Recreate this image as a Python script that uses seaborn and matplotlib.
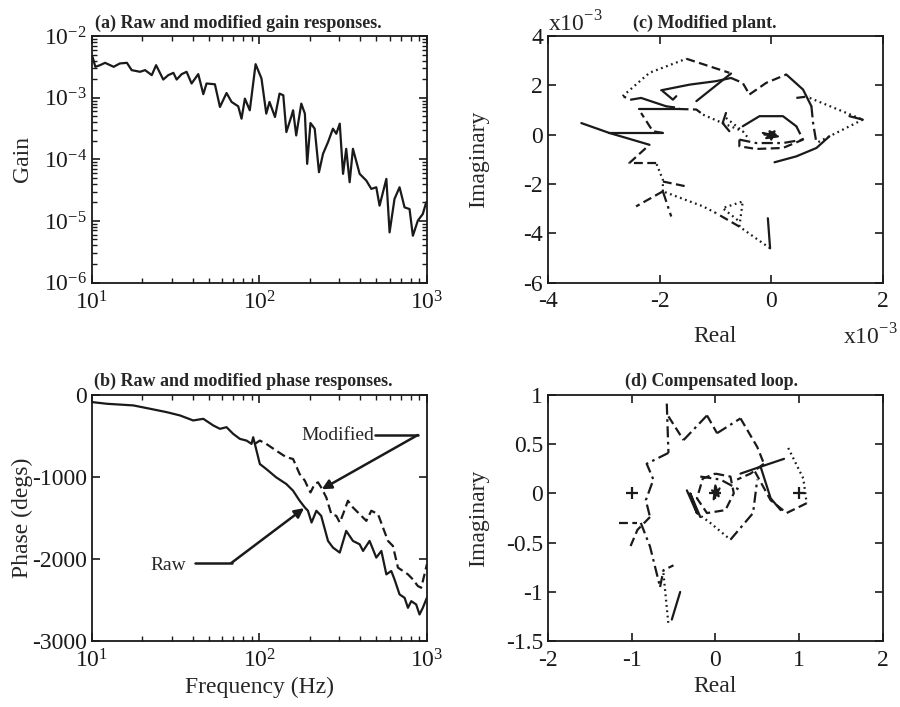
import matplotlib
matplotlib.use('Agg')
import matplotlib.pyplot as plt
import seaborn as sns
from matplotlib.ticker import FormatStrFormatter, LogLocator, NullFormatter

# (a) gain response
gain_freq = [10.1, 10.5, 11.2, 12.0, 13.5, 14.7, 16.2, 17.3, 19.4, 20.8, 22.8, 24.2,
             26.7, 28.6, 30.7, 32.1, 34.4, 36.8, 39.4, 43.2, 46.3, 48.4, 54.3, 58.2,
             63.7, 68.3, 74.8, 78.3, 82.0, 87.7, 95.0, 103, 110, 115, 124, 132, 139,
             145, 156, 159, 166, 178, 187, 193, 202, 214, 227, 240, 257, 275, 288,
             302, 316, 330, 346, 362, 397, 435, 466, 499, 522, 573, 599, 641, 687,
             736, 788, 825, 883, 946, 991]
gain_vals = [4.6e-3, 3.17e-3, 3.37e-3, 3.68e-3, 3.17e-3, 3.59e-3, 3.68e-3, 2.8e-3,
             2.63e-3, 2.8e-3, 2.32e-3, 3.37e-3, 1.97e-3, 2.32e-3, 2.53e-3, 1.97e-3,
             2.41e-3, 2.63e-3, 1.70e-3, 2.41e-3, 1.14e-3, 1.70e-3, 1.65e-3, 7.07e-4,
             1.19e-3, 8.53e-4, 7.25e-4, 4.56e-4, 9.66e-4, 6.24e-4, 3.50e-3, 2.05e-3,
             5.51e-4, 8.53e-4, 4.86e-4, 1.165e-3, 1.095e-3, 2.77e-4, 5.17e-4, 6.24e-4,
             2.44e-4, 8.01e-4, 5.51e-4, 8.44e-5, 3.88e-4, 3.14e-4, 6.18e-5, 1.23e-4,
             1.90e-4, 3.14e-4, 2.60e-4, 3.79e-4, 5.81e-5, 1.48e-4, 4.25e-5, 1.48e-4,
             5.81e-5, 4.52e-5, 3.31e-5, 3.52e-5, 1.77e-5, 4.81e-5, 6.52e-6, 2.28e-5,
             3.52e-5, 1.66e-5, 1.56e-5, 5.75e-6, 1.01e-5, 1.30e-5, 2.01e-5]

# (b) phase responses
raw_freq = [10.1, 12.3, 17.7, 22.3, 28.0, 33.6, 40.3, 46.3, 53.1, 58.2, 63.7, 69.8,
            76.5, 83.9, 89.8, 91.9, 96.2, 100.7, 110, 126, 145, 159, 174, 187, 195,
            205, 219, 234, 257, 275, 302, 330, 362, 397, 416, 455, 499, 535, 573,
            613, 641, 687, 736, 771, 807, 863, 904, 946, 1000]
raw_phase = [-90, -110, -130, -171, -212, -252, -313, -293, -374, -415, -395, -476,
             -537, -558, -598, -517, -680, -843, -904, -1005, -1087, -1168, -1290,
             -1372, -1412, -1555, -1412, -1474, -1779, -1860, -1921, -1657, -1779,
             -1820, -1901, -1779, -1982, -1901, -2186, -2145, -2247, -2430, -2471,
             -2593, -2512, -2552, -2674, -2593, -2471]
mod_freq = [94.0, 100.7, 110, 126, 145, 159, 174, 187, 195, 202, 214, 224, 234, 251,
            269, 288, 302, 316, 338, 362, 397, 435, 466, 511, 547, 586, 627, 672, 720,
            771, 825, 883, 925, 968, 1000]
mod_phase = [-598, -558, -598, -680, -761, -782, -965, -1046, -1128, -1189, -1087,
             -1066, -1128, -1250, -1453, -1474, -1555, -1453, -1290, -1372, -1453,
             -1535, -1412, -1453, -1616, -1779, -1840, -2104, -2145, -2186, -2247,
             -2328, -2349, -2186, -2064]

# (c) modified plant, pieces of the Nyquist locus (units of 1e-3): style, real, imag
plant_pieces = [
    ('-', [-0.06, -0.02], [-3.39, -4.61]),
    (':', [-0.02, -0.57], [-4.61, -3.73]),
    (':', [-0.57, -0.51, -0.87, -0.57], [-3.73, -2.71, -2.98, -3.52]),
    ('--', [-0.57, -0.99], [-3.73, -3.18]),
    (':', [-0.99, -1.22, -1.94], [-3.18, -2.91, -2.30]),
    ('--', [-1.94, -2.42], [-2.30, -2.91]),
    ('-.', [-1.94, -1.79], [-2.30, -3.32]),
    ('--', [-1.94, -1.52], [-1.90, -2.10]),
    (':', [-1.94, -1.94, -2.06], [-2.30, -1.83, -1.15]),
    ('--', [-2.06, -2.54, -2.18], [-1.15, -1.15, -0.41]),
    ('-', [-2.18, -2.90, -3.40], [-0.41, 0.07, 0.47]),
    ('-', [-2.90, -1.94], [0.07, 0.07]),
    ('--', [-1.94, -2.12, -2.33], [0.07, 0.14, 0.88]),
    ('-', [-2.36, -1.64], [1.04, 1.04]),
    ('--', [-1.64, -1.34, -1.22], [1.04, 1.02, 0.81]),
    (':', [-1.22, -0.87, -0.51], [0.81, 0.47, 0.14]),
    ('-.', [-2.33, -2.51, -2.66], [1.49, 1.42, 1.56]),
    (':', [-2.66, -2.18, -1.52], [1.56, 2.51, 3.08]),
    ('--', [-1.52, -0.75], [3.08, 2.51]),
    ('-', [-0.72, -1.34], [2.48, 1.36]),
    ('-', [-1.97, -1.46, -0.99, -0.72], [1.80, 2.03, 2.17, 2.30]),
    ('-', [-2.33, -1.88], [1.49, 1.15]),
    ('--', [-1.88, -1.64], [1.15, 1.08]),
    ('-', [-1.94, -1.76, -1.70], [1.76, 1.42, 1.56]),
    ('--', [-0.72, -0.51, -0.39], [2.30, 2.10, 1.63]),
    ('--', [-0.39, -0.09, 0.27], [1.63, 2.10, 2.44]),
    ('-', [0.27, 0.57, 0.72], [2.44, 1.83, 1.15]),
    ('-.', [0.72, 0.75, 0.81], [1.15, 0.47, -0.34]),
    ('--', [0.45, 0.69], [1.49, 1.56]),
    (':', [0.69, 1.64], [1.49, 0.61]),
    ('-', [1.40, 1.64], [0.75, 0.61]),
    (':', [1.64, 1.04, 0.81], [0.61, -0.07, -0.34]),
    ('-', [0.06, 0.45, 0.81, 1.04], [-1.12, -0.88, -0.54, -0.07]),
    ('-', [-0.81, -0.87, -0.75], [0.88, 0.47, 0.14]),
    (':', [-0.81, -0.51, -0.39], [0.68, 0.14, -0.20]),
    ('-', [-0.51, -0.21, 0.21, 0.45], [0.34, 0.75, 0.75, 0.34]),
    ('--', [0.45, 0.57, 0.21, -0.27, -0.57, -0.57], [0.34, -0.20, -0.54, -0.58, -0.47, -0.20]),
    ('-.', [-0.57, -0.27, 0.21, 0.57], [-0.20, -0.34, -0.34, -0.20]),
    ('-', [-0.15, 0.12, -0.09, 0.06, 0.0, -0.03, 0.08, -0.12],
          [0.07, -0.07, -0.14, 0.14, -0.20, 0.14, 0.0, 0.0]),
]

# (d) compensated loop
loop_pieces = [
    ('-.', [-0.58, -0.56], [0.91, 0.41]),
    ('-.', [-0.56, -0.82, -0.74, -0.83, -0.78], [0.41, 0.30, 0.14, -0.07, -0.24]),
    ('--', [-0.78, -0.93, -1.03], [-0.24, -0.37, -0.57]),
    ('--', [-1.15, -0.93], [-0.30, -0.30]),
    ('-.', [-0.89, -0.78, -0.66], [-0.30, -0.54, -0.95]),
    (':', [-0.62, -0.56], [-0.81, -1.33]),
    ('-', [-0.42, -0.52], [-1.00, -1.28]),
    ('-.', [-0.66, -0.62, -0.50], [-0.95, -0.78, -0.73]),
    ('--', [-0.56, -0.38], [0.78, 0.54]),
    ('-.', [-0.38, -0.10], [0.54, 0.79]),
    ('--', [-0.10, 0.02], [0.79, 0.61]),
    ('-.', [0.02, 0.30], [0.61, 0.76]),
    ('--', [0.30, 0.50, 0.58], [0.76, 0.47, 0.30]),
    ('--', [0.58, 0.42, 0.26], [0.30, 0.20, 0.14]),
    (':', [0.87, 1.05, 1.09], [0.46, 0.15, -0.10]),
    ('--', [1.09, 0.85, 0.66, 0.46], [-0.10, -0.20, -0.07, 0.24]),
    ('-', [0.30, 0.54, 0.82], [0.20, 0.27, 0.35]),
    ('-', [0.54, 0.66, 0.78], [0.27, -0.05, -0.17]),
    (':', [-0.22, -0.06, 0.18], [-0.20, -0.30, -0.47]),
    ('-.', [0.18, 0.45, 0.50], [-0.47, -0.20, 0.14]),
    ('--', [0.0, 0.18, 0.22, 0.12, -0.10, -0.22, -0.15, 0.0],
           [0.20, 0.17, 0.0, -0.17, -0.20, -0.05, 0.15, 0.20]),
    ('-', [-0.34, -0.22, -0.30, -0.18], [0.03, -0.20, 0.0, -0.24]),
    ('-.', [-0.18, 0.06, 0.30], [0.17, 0.14, 0.03]),
    ('-', [-0.04, 0.04, 0.0, -0.02, 0.05], [0.03, -0.03, 0.08, -0.06, 0.05]),
]
loop_marks_re = [-1, 1, 0]
loop_marks_im = [0, 0, 0]

DASHES = {'-': '-', '--': (0, (4, 2)), ':': (0, (0.8, 1.6)), '-.': (0, (5, 2, 1.2, 2))}
TICK_FS = 17
LABEL_FS = 17
TITLE_FS = 13

sns.set_theme(style='ticks')
plt.rcParams['font.family'] = ['Liberation Serif', 'DejaVu Serif']
plt.rcParams.update({
    'mathtext.fontset': 'custom',
    'mathtext.rm': 'Liberation Serif',
    'axes.unicode_minus': False,
    'axes.edgecolor': 'k',
    'axes.linewidth': 1.3,
    'xtick.color': 'k', 'ytick.color': 'k',
    'xtick.direction': 'in', 'ytick.direction': 'in',
    'xtick.top': True, 'ytick.right': True,
    'xtick.major.size': 6, 'ytick.major.size': 6,
    'xtick.minor.size': 3.5, 'ytick.minor.size': 3.5,
    'xtick.labelsize': TICK_FS, 'ytick.labelsize': TICK_FS,
    'xtick.major.pad': 6,
})


def draw_pieces(ax, pieces):
    for style, re, im in pieces:
        sns.lineplot(x=re, y=im, sort=False, estimator=None, color='k', lw=1.6,
                     linestyle=DASHES[style], ax=ax)


def frame(ax, title, title_x):
    ax.set_title(title, fontsize=TITLE_FS, fontweight='bold', pad=6, x=title_x)
    for s in ax.spines.values():
        s.set_visible(True)


def finish_ticks(ax, log_x=False, log_y=False):
    # minor ticks on the log axes, everything pointing inward on all four sides
    if log_x:
        ax.xaxis.set_minor_locator(LogLocator(base=10, subs=range(2, 10), numticks=40))
        ax.xaxis.set_minor_formatter(NullFormatter())
    if log_y:
        ax.yaxis.set_minor_locator(LogLocator(base=10, subs=range(2, 10), numticks=40))
        ax.yaxis.set_minor_formatter(NullFormatter())
    ax.tick_params(which='both', direction='in', top=True, right=True,
                   bottom=True, left=True, color='k')
    ax.tick_params(which='major', length=6, width=1.2)
    ax.tick_params(which='minor', length=3.5, width=1.0)


fig, axs = plt.subplots(2, 2, figsize=(9, 7.07), dpi=100)
fig.subplots_adjust(left=0.102, right=0.981, bottom=0.093, top=0.949,
                    wspace=0.361, hspace=0.455)
ax_a, ax_c = axs[0]
ax_b, ax_d = axs[1]

# (a)
ax_a.set_xscale('log')
ax_a.set_yscale('log')
sns.lineplot(x=gain_freq, y=gain_vals, color='k', lw=1.6, estimator=None, ax=ax_a)
ax_a.set_xlim(10, 1000)
ax_a.set_ylim(1e-6, 1e-2)
ax_a.yaxis.set_major_locator(LogLocator(base=10, numticks=10))
ax_a.set_ylabel('Gain', fontsize=LABEL_FS)
ax_a.yaxis.set_label_coords(-0.175, 0.5)
frame(ax_a, '(a) Raw and modified gain responses.', 0.437)

# (b)
ax_b.set_xscale('log')
sns.lineplot(x=raw_freq, y=raw_phase, color='k', lw=1.6, estimator=None, ax=ax_b)
sns.lineplot(x=mod_freq, y=mod_phase, color='k', lw=1.6, estimator=None,
             linestyle=DASHES['--'], ax=ax_b)
ax_b.set_xlim(10, 1000)
ax_b.set_ylim(-3000, 0)
ax_b.set_yticks([0, -1000, -2000, -3000])
ax_b.yaxis.set_major_formatter(FormatStrFormatter('%d'))
ax_b.set_xlabel('Frequency (Hz)', fontsize=LABEL_FS)
ax_b.xaxis.set_label_coords(0.5, -0.145)
ax_b.set_ylabel('Phase (degs)', fontsize=LABEL_FS)
ax_b.yaxis.set_label_coords(-0.175, 0.5)
frame(ax_b, '(b) Raw and modified phase responses.', 0.451)

arrow = dict(arrowstyle='-|>', color='k', lw=1.8, mutation_scale=14, shrinkA=0, shrinkB=0)
ax_b.text(295, -500, 'Modified', fontsize=14, ha='center', va='center')
ax_b.plot([488, 883], [-490, -490], color='k', lw=1.8)
ax_b.annotate('', xy=(236, -1150), xytext=(883, -490), arrowprops=arrow)
ax_b.text(28.6, -2075, 'Raw', fontsize=14, ha='center', va='center')
ax_b.plot([41.3, 68.3], [-2045, -2045], color='k', lw=1.8)
ax_b.annotate('', xy=(185, -1380), xytext=(68.3, -2045), arrowprops=arrow)

# (c)
draw_pieces(ax_c, plant_pieces)
ax_c.set_xlim(-4, 2)
ax_c.set_ylim(-6, 4)
ax_c.set_xticks([-4, -2, 0, 2])
ax_c.set_yticks([-6, -4, -2, 0, 2, 4])
ax_c.xaxis.set_major_formatter(FormatStrFormatter('%g'))
ax_c.yaxis.set_major_formatter(FormatStrFormatter('%g'))
ax_c.set_xlabel('Real', fontsize=LABEL_FS)
ax_c.xaxis.set_label_coords(0.5, -0.175)
ax_c.set_ylabel('Imaginary', fontsize=LABEL_FS)
ax_c.yaxis.set_label_coords(-0.175, 0.5)
ax_c.text(0.0, 1.05, 'x10$^{-3}$', transform=ax_c.transAxes, fontsize=LABEL_FS,
          ha='left', va='center')
ax_c.text(1.045, -0.22, 'x10$^{-3}$', transform=ax_c.transAxes, fontsize=LABEL_FS,
          ha='right', va='center')
frame(ax_c, '(c) Modified plant.', 0.469)

# (d)
draw_pieces(ax_d, loop_pieces)
sns.scatterplot(x=loop_marks_re, y=loop_marks_im, marker='+', s=70, color='k',
                linewidth=1.6, ax=ax_d)
ax_d.set_xlim(-2, 2)
ax_d.set_ylim(-1.5, 1)
ax_d.set_xticks([-2, -1, 0, 1, 2])
ax_d.set_yticks([-1.5, -1, -0.5, 0, 0.5, 1])
ax_d.xaxis.set_major_formatter(FormatStrFormatter('%g'))
ax_d.yaxis.set_major_formatter(FormatStrFormatter('%g'))
ax_d.set_xlabel('Real', fontsize=LABEL_FS)
ax_d.xaxis.set_label_coords(0.5, -0.14)
ax_d.set_ylabel('Imaginary', fontsize=LABEL_FS)
ax_d.yaxis.set_label_coords(-0.175, 0.5)
frame(ax_d, '(d) Compensated loop.', 0.488)

finish_ticks(ax_a, log_x=True, log_y=True)
finish_ticks(ax_b, log_x=True)
finish_ticks(ax_c)
finish_ticks(ax_d)

fig.savefig('out.png', dpi=100)
